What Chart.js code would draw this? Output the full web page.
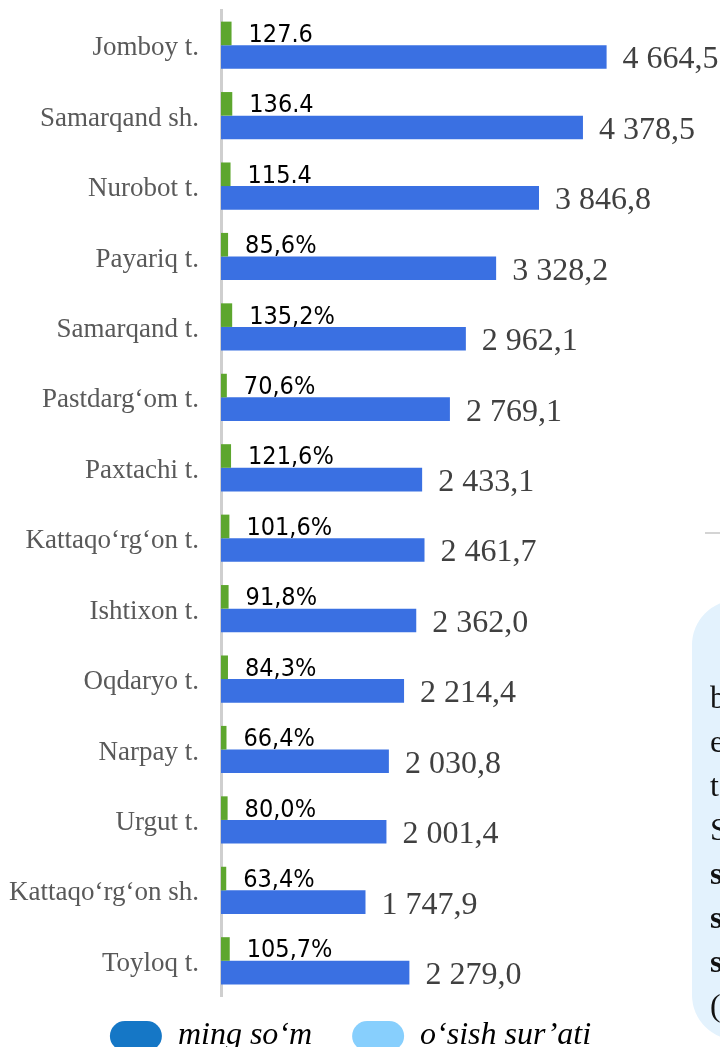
<!DOCTYPE html>
<html>
<head>
<meta charset="utf-8">
<script src="https://cdn.jsdelivr.net/npm/chart.js@4.4.1/dist/chart.umd.min.js"></script>
<style>
  html, body { margin: 0; padding: 0; background: #fff; overflow: hidden; width: 720px; height: 1047px; }
  #wrap { position: absolute; left: 0; top: 0; width: 720px; height: 1062px; }
  #side-line { position: absolute; left: 705px; top: 532px; width: 20px; height: 2px; background: #d4d4d4; }
  #side-box { position: absolute; left: 692px; top: 600px; width: 90px; height: 440px; background: #e3f2fd; border-radius: 52px; overflow: hidden; }
  #side-text { position: absolute; left: 18px; top: 75px; font-family: 'Liberation Serif', serif; font-size: 32px; line-height: 44px; color: #111; white-space: pre; }
</style>
</head>
<body>
<div id="wrap"><canvas id="c"></canvas></div>
<div id="side-line"></div>
<div id="side-box"><div id="side-text">b<br>e<br>t<br>S<br><b>s</b><br><b>s</b><br><b>s</b><br>(</div></div>
<script>
const categories = ["Jomboy t.", "Samarqand sh.", "Nurobot t.", "Payariq t.", "Samarqand t.", "Pastdarg‘om t.", "Paxtachi t.", "Kattaqo‘rg‘on t.", "Ishtixon t.", "Oqdaryo t.", "Narpay t.", "Urgut t.", "Kattaqo‘rg‘on sh.", "Toyloq t."];
const mingSom = [4664.5, 4378.5, 3846.8, 3328.2, 2962.1, 2769.1, 2433.1, 2461.7, 2362.0, 2214.4, 2030.8, 2001.4, 1747.9, 2279.0];
const osishSurati = [127.6, 136.4, 115.4, 85.6, 135.2, 70.6, 121.6, 101.6, 91.8, 84.3, 66.4, 80.0, 63.4, 105.7];
const osishLabels = ["127.6", "136.4", "115.4", "85,6%", "135,2%", "70,6%", "121,6%", "101,6%", "91,8%", "84,3%", "66,4%", "80,0%", "63,4%", "105,7%"];
const legendNames = ["ming so‘m", "o‘sish sur’ati"];

function fmtSom(v) {
  const s = v.toFixed(1).split('.');
  const intPart = s[0].replace(/\B(?=(\d{3})+(?!\d))/g, ' ');
  return intPart + ',' + s[1];
}

const labelPlugin = {
  id: 'valueLabels',
  afterDatasetsDraw(chart) {
    const ctx = chart.ctx;
    ctx.save();
    const gMeta = chart.getDatasetMeta(0);
    ctx.font = "25px 'DejaVu Sans Condensed', 'DejaVu Sans', sans-serif";
    ctx.fillStyle = '#000';
    ctx.textAlign = 'left';
    ctx.textBaseline = 'middle';
    gMeta.data.forEach((bar, i) => {
      ctx.fillText(osishLabels[i], bar.x + 17, bar.y + 2);
    });
    const bMeta = chart.getDatasetMeta(1);
    ctx.font = "32px 'Liberation Serif', serif";
    ctx.fillStyle = '#404040';
    bMeta.data.forEach((bar, i) => {
      ctx.fillText(fmtSom(mingSom[i]), bar.x + 16, bar.y + 3);
    });
    ctx.restore();
  }
};

new Chart(document.getElementById('c'), {
  type: 'bar',
  data: {
    labels: categories,
    datasets: [
      { label: legendNames[1], data: osishSurati, backgroundColor: '#5da62e', borderWidth: 0 },
      { label: legendNames[0], data: mingSom, backgroundColor: '#3a70e2', borderWidth: 0 }
    ]
  },
  options: {
    indexAxis: 'y',
    responsive: true,
    maintainAspectRatio: false,
    animation: false,
    categoryPercentage: 0.67,
    barPercentage: 1.0,
    layout: { padding: { top: 10, right: 3, left: 0, bottom: 0 } },
    scales: {
      x: { display: false, min: 0, max: 6000 },
      y: {
        grid: { display: false, drawTicks: false },
        border: { display: true, color: '#cfcfcf', width: 3 },
        ticks: {
          padding: 22,
          labelOffset: 3,
          color: '#595959',
          font: { family: "'Liberation Serif', serif", size: 27 }
        },
        afterFit(axis) { axis.width = 221; axis.paddingTop = 0; axis.paddingBottom = 0; }
      }
    },
    plugins: {
      tooltip: { enabled: false },
      legend: {
        position: 'bottom',
        labels: {
          padding: 24,
          boxWidth: 52,
          boxHeight: 30,
          color: '#111',
          font: { family: "'Liberation Serif', serif", size: 32, style: 'italic' },
          generateLabels() {
            return [
              { text: legendNames[0] + '  ', fillStyle: '#1577c6', strokeStyle: '#1577c6', lineWidth: 0, borderRadius: 15, datasetIndex: 1, hidden: false },
              { text: legendNames[1] + '  ', fillStyle: '#87cffd', strokeStyle: '#87cffd', lineWidth: 0, borderRadius: 15, datasetIndex: 0, hidden: false }
            ];
          }
        }
      }
    }
  },
  plugins: [labelPlugin]
});
</script>
</body>
</html>
